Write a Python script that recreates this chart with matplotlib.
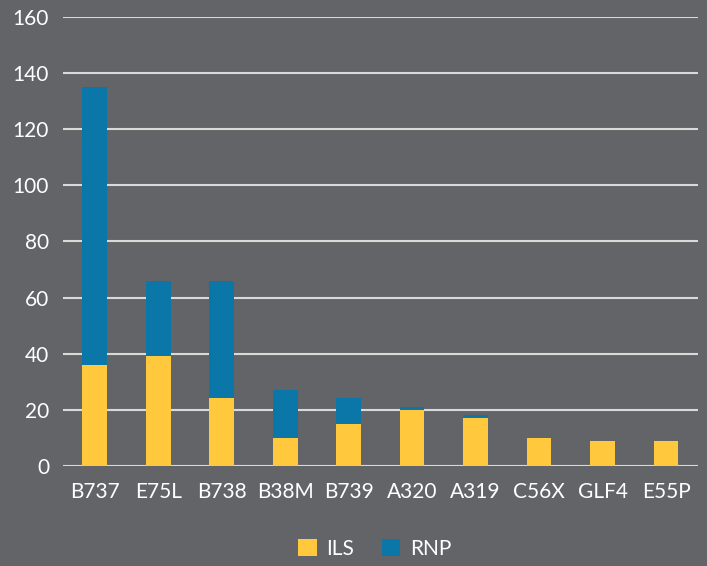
import matplotlib
matplotlib.use("Agg")
import matplotlib.pyplot as plt
import numpy as np

categories = ["B737", "E75L", "B738", "B38M", "B739", "A320", "A319", "C56X", "GLF4", "E55P"]
ils = [36, 39, 24, 10, 15, 20, 17, 10, 9, 9]
rnp = [99, 27, 42, 17, 9, 1, 1, 0, 0, 0]
yticks = [0, 20, 40, 60, 80, 100, 120, 140, 160]

bg = "#636467"
c_ils = "#FFC83D"
c_rnp = "#0A77A8"
grid_c = "#D9D9D9"

plt.rcParams['font.family'] = ['Lato', 'DejaVu Sans']

fig = plt.figure(figsize=(7.07, 5.66), dpi=100, facecolor=bg)
ax = fig.add_axes([0.089, 0.177, 0.898, 0.793], facecolor=bg)

x = np.arange(len(categories))
w = 0.39
ax.bar(x, ils, w, color=c_ils, label="ILS", zorder=3)
ax.bar(x, rnp, w, bottom=ils, color=c_rnp, label="RNP", zorder=3)

ax.set_xlim(-0.5, len(categories) - 0.5)
ax.set_ylim(0, 160)
ax.set_yticks(yticks)
ax.set_xticks(x)
ax.set_xticklabels(categories)
for yv in yticks:
    ax.axhline(yv, color=grid_c, lw=1.5, zorder=1)
for s in ax.spines.values():
    s.set_visible(False)
ax.tick_params(axis='both', length=0, colors="white", labelsize=15)
ax.tick_params(axis='x', pad=12)
ax.tick_params(axis='y', pad=10)

leg = fig.legend(loc="center", bbox_to_anchor=(0.53, 0.03), ncol=2, frameon=False,
                 fontsize=15, labelcolor="white", handlelength=0.9, handleheight=0.9,
                 columnspacing=1.3, handletextpad=0.45)

fig.savefig("out.png", dpi=100, facecolor=bg)
